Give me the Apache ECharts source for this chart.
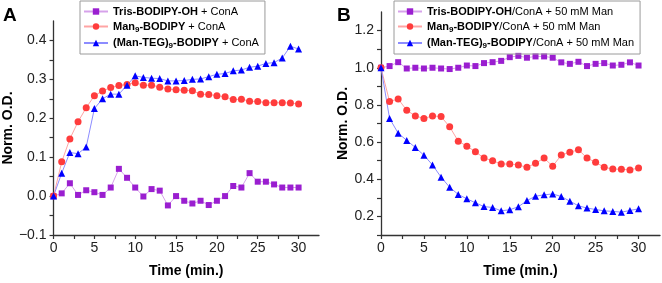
<!DOCTYPE html>
<html>
<head>
<meta charset="utf-8">
<script src="https://cdn.jsdelivr.net/npm/echarts@6/dist/echarts.min.js"></script>
<style>html,body{margin:0;padding:0;background:#fff;}#c{width:662px;height:283px;}</style>
</head>
<body>
<div id="c"></div>
<script>
var time = [0,1,2,3,4,5,6,7,8,9,10,11,12,13,14,15,16,17,18,19,20,21,22,23,24,25,26,27,28,29,30];

var trisA = [0, 0.007, 0.033, 0.003, 0.015, 0.010, 0.003, 0.022, 0.070, 0.047, 0.022, -0.001, 0.018, 0.014, -0.024, 0.000, -0.012, -0.019, -0.012, -0.023, -0.012, 0.000, 0.026, 0.022, 0.059, 0.037, 0.037, 0.030, 0.022, 0.022, 0.022];
var manA = [0, 0.088, 0.147, 0.191, 0.227, 0.258, 0.270, 0.279, 0.284, 0.287, 0.291, 0.285, 0.285, 0.280, 0.275, 0.273, 0.272, 0.271, 0.262, 0.261, 0.258, 0.255, 0.248, 0.249, 0.244, 0.243, 0.240, 0.240, 0.240, 0.239, 0.237];
var tegA = [0, 0.059, 0.112, 0.109, 0.126, 0.225, 0.250, 0.262, 0.262, 0.285, 0.309, 0.305, 0.303, 0.302, 0.296, 0.296, 0.297, 0.300, 0.301, 0.307, 0.313, 0.315, 0.322, 0.324, 0.331, 0.334, 0.341, 0.343, 0.355, 0.385, 0.378];

var trisB = [1.0, 1.009, 1.030, 0.996, 1.000, 0.996, 1.000, 0.996, 0.993, 1.000, 1.012, 1.009, 1.025, 1.030, 1.037, 1.057, 1.064, 1.054, 1.061, 1.061, 1.054, 1.029, 1.021, 1.032, 1.009, 1.021, 1.025, 1.012, 1.016, 1.029, 1.012];
var manB = [1.0, 0.818, 0.832, 0.771, 0.741, 0.727, 0.741, 0.737, 0.682, 0.605, 0.578, 0.548, 0.514, 0.500, 0.482, 0.482, 0.477, 0.464, 0.486, 0.514, 0.470, 0.530, 0.545, 0.559, 0.514, 0.491, 0.464, 0.455, 0.454, 0.450, 0.461];
var tegB = [1.0, 0.727, 0.648, 0.609, 0.571, 0.529, 0.477, 0.411, 0.357, 0.318, 0.295, 0.273, 0.253, 0.248, 0.230, 0.236, 0.252, 0.285, 0.309, 0.316, 0.321, 0.307, 0.282, 0.257, 0.245, 0.237, 0.230, 0.227, 0.223, 0.232, 0.241];

var namesA = ['Tris-BODIPY-OH + ConA', 'Man9-BODIPY + ConA', '(Man-TEG)9-BODIPY + ConA'];
var namesB = ['Tris-BODIPY-OH/ConA + 50 mM Man', 'Man9-BODIPY/ConA + 50 mM Man', '(Man-TEG)9-BODIPY/ConA + 50 mM Man'];
var legendRichA = ['{b|Tris-BODIPY-OH}{n| + ConA}', '{b|Man}{s|9}{b|-BODIPY}{n| + ConA}', '{b|(Man-TEG)}{s|9}{b|-BODIPY}{n| + ConA}'];
var legendRichB = ['{b|Tris-BODIPY-OH}{n|/ConA + 50 mM Man}', '{b|Man}{s|9}{b|-BODIPY}{n|/ConA + 50 mM Man}', '{b|(Man-TEG)}{s|9}{b|-BODIPY}{n|/ConA + 50 mM Man}'];

var FONT = '"Liberation Sans", Arial, sans-serif';
var markerColors = ['#9a1ed0', '#ff3c3c', '#0000ff'];
var lineColors = ['#d6a2ea', '#ffa4a4', '#8c8cff'];
var symbols = ['rect', 'circle', 'triangle'];
var symbolSizes = [6, 7, 7];

var rich = {
  b: {fontFamily: FONT, fontSize: 11, fontWeight: 'bold', color: '#000'},
  n: {fontFamily: FONT, fontSize: 11, color: '#000'},
  s: {fontFamily: FONT, fontSize: 8, fontWeight: 'bold', color: '#000', verticalAlign: 'bottom', padding: [6, 0, 0, 0]}
};

function xAxis(gi) {
  return {
    type: 'value', gridIndex: gi, min: 0, max: 32.5, interval: 2.5,
    axisLine: {show: true, onZero: false, lineStyle: {color: '#333', width: 1.3}},
    axisTick: {show: true, length: 4, lineStyle: {color: '#333', width: 1.2}},
    splitLine: {show: false},
    axisLabel: {
      fontFamily: FONT, fontSize: 14, color: '#222', margin: 6,
      showMaxLabel: false,
      formatter: function (v) { return (Math.abs(v % 5) < 1e-6) ? String(v) : ''; }
    },
    name: 'Time (min.)', nameLocation: 'middle', nameGap: 29,
    nameTextStyle: {fontFamily: FONT, fontSize: 14, fontWeight: 'bold', color: '#000'}
  };
}

function yAxis(gi, min, max, interval, labelStep, gap) {
  return {
    type: 'value', gridIndex: gi, min: min, max: max, interval: interval,
    axisLine: {show: true, onZero: false, lineStyle: {color: '#333', width: 1.3}},
    axisTick: {show: true, length: 4, lineStyle: {color: '#333', width: 1.2}},
    splitLine: {show: false},
    axisLabel: {
      fontFamily: FONT, fontSize: 14, color: '#222', margin: 7,
      showMaxLabel: false,
      formatter: function (v) {
        var r = v / labelStep;
        if (Math.abs(r - Math.round(r)) < 1e-6) {
          var s = v.toFixed(1);
          return s.replace('-', '\u2212');
        }
        return '';
      }
    },
    name: 'Norm. O.D.', nameLocation: 'middle', nameGap: gap, nameRotate: 90,
    nameTextStyle: {fontFamily: FONT, fontSize: 14, fontWeight: 'bold', color: '#000'}
  };
}

function mkSeries(name, data, i, gi) {
  return {
    name: name, type: 'line', xAxisIndex: gi, yAxisIndex: gi,
    data: time.map(function (t, k) { return [t, data[k]]; }),
    symbol: symbols[i], symbolSize: symbolSizes[i],
    showAllSymbol: true,
    itemStyle: {color: markerColors[i]},
    lineStyle: {color: lineColors[i], width: 1},
    emphasis: {disabled: true},
    animation: false
  };
}

function legend(names, richFmt, left) {
  return {
    data: names, orient: 'vertical', left: left, top: 1,
    itemWidth: 24, itemHeight: 8, itemGap: 4,
    padding: [5, 6, 4, 3],
    borderColor: '#9a9a9a', borderWidth: 1,
    textStyle: {fontFamily: FONT, fontSize: 11, color: '#000', rich: rich},
    formatter: function (n) { return richFmt[names.indexOf(n)]; },
    selectedMode: false
  };
}

var chart = echarts.init(document.getElementById('c'), null, {renderer: 'canvas'});
chart.setOption({
  backgroundColor: '#fff',
  animation: false,
  grid: [
    {left: 51, top: 21, width: 268, height: 216, containLabel: false},
    {left: 381, top: 12, width: 279, height: 224, containLabel: false}
  ],
  xAxis: [xAxis(0), xAxis(1)],
  yAxis: [yAxis(0, -0.1, 0.45, 0.05, 0.1, 29), yAxis(1, 0.1, 1.3, 0.1, 0.2, 24)],
  legend: [legend(namesA, legendRichA, 80), legend(namesB, legendRichB, 394)],
  graphic: [
    {type: 'text', left: 3, top: 6, style: {text: 'A', fontFamily: FONT, fontSize: 19, fontWeight: 'bold', fill: '#000'}},
    {type: 'text', left: 337, top: 6, style: {text: 'B', fontFamily: FONT, fontSize: 19, fontWeight: 'bold', fill: '#000'}}
  ],
  series: [
    mkSeries(namesA[0], trisA, 0, 0),
    mkSeries(namesA[1], manA, 1, 0),
    mkSeries(namesA[2], tegA, 2, 0),
    mkSeries(namesB[0], trisB, 0, 1),
    mkSeries(namesB[1], manB, 1, 1),
    mkSeries(namesB[2], tegB, 2, 1)
  ]
});
</script>
</body>
</html>
